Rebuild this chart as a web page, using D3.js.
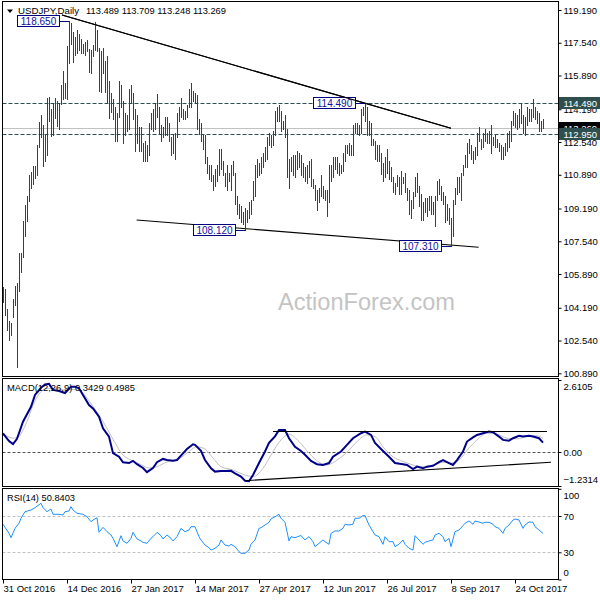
<!DOCTYPE html>
<html><head><meta charset="utf-8">
<script src="https://cdn.jsdelivr.net/npm/d3@7"></script>
<style>
body{margin:0;background:#fff}
svg{display:block}
text{font-family:"Liberation Sans",Arial,sans-serif}
</style>
</head><body>
<svg id="c" width="600" height="600"></svg>
<script>
// ---------- DATA ----------
const dateLabels = ["31 Oct 2016","14 Dec 2016","27 Jan 2017","14 Mar 2017","27 Apr 2017","12 Jun 2017","26 Jul 2017","8 Sep 2017","24 Oct 2017"];
const dateLabelBars = [0,32,64,96,128,160,192,224,256];
const priceTicks = [119.19,117.54,115.89,114.19,112.54,110.89,109.19,107.54,105.89,104.19,102.54,100.89];
const macdTicks = [2.6105,0,-1.2314];
const rsiTicks = [100,70,30,0];
const rsiLevels = [70,30];
const hLevels = [114.49,112.95];
const bidPrice = 113.269;
const lastBar = [113.489,113.709,113.248,113.269];

const high = [105.25,105.15,104.15,103.50,103.40,104.65,105.30,105.45,106.95,106.95,
108.55,109.35,109.80,110.90,111.05,111.35,111.35,112.40,113.55,113.90,
113.40,112.90,114.75,114.80,114.20,114.50,114.75,114.60,114.50,115.40,
116.10,115.50,117.40,118.65,118.55,118.10,117.85,118.20,118.00,117.75,
117.50,117.60,117.70,117.25,117.20,117.45,118.60,118.20,117.30,117.10,
117.30,116.60,116.85,115.60,115.00,114.70,114.30,114.00,115.60,115.40,
114.60,114.00,113.90,115.20,115.40,115.00,114.20,113.90,113.30,113.30,
112.50,112.60,112.40,113.50,114.00,114.20,114.50,114.95,114.30,113.40,
113.30,113.80,113.80,113.50,112.80,112.90,113.00,114.00,114.30,114.75,
114.20,114.10,114.40,115.20,115.50,115.10,115.00,114.90,113.70,113.50,
112.90,112.90,111.80,111.40,111.40,110.90,111.20,111.40,112.20,112.20,
111.60,111.00,111.40,111.00,111.40,111.60,111.00,109.80,109.40,109.30,
109.00,109.20,109.10,109.50,109.60,110.60,111.40,111.70,111.50,111.80,
112.00,112.30,112.80,113.00,112.90,113.10,114.10,114.30,114.40,114.10,
113.60,113.90,113.20,111.70,111.80,111.90,111.90,112.10,112.00,111.90,
111.50,111.30,111.40,111.60,111.70,110.70,110.40,110.10,110.20,110.90,
110.30,110.10,110.10,111.40,111.40,111.80,111.80,111.80,111.50,111.40,
112.00,112.40,112.40,112.50,112.40,113.40,113.50,113.50,113.40,114.20,
114.30,114.49,114.30,113.60,113.50,112.70,112.60,112.40,112.40,112.00,
111.50,111.80,112.20,111.60,111.30,110.80,110.50,110.90,110.80,111.10,
110.80,111.00,110.20,110.10,109.60,110.00,110.80,111.00,110.30,109.90,
109.50,109.70,109.70,109.80,109.80,109.50,109.80,110.60,110.70,110.30,
110.00,109.80,109.40,109.20,108.70,109.60,110.20,110.80,110.80,111.00,
111.40,111.90,112.50,112.70,112.40,112.10,112.30,113.00,113.30,112.70,
113.00,113.20,113.00,113.10,113.40,112.80,112.90,112.70,112.50,112.40,
112.30,112.50,113.00,113.10,113.60,114.10,114.00,113.90,114.20,114.45,
113.90,113.80,114.30,114.20,114.20,114.70,114.30,114.10,114.00,113.60,
113.709];
const low = [104.50,103.85,103.05,102.55,102.80,103.75,104.35,101.19,105.05,106.00,
106.75,107.80,108.55,109.55,110.20,110.45,110.75,110.90,112.30,112.80,
111.35,111.60,111.90,113.60,112.85,112.90,113.75,113.35,113.20,114.45,
114.70,114.75,114.70,116.50,117.50,116.55,116.90,117.00,117.20,117.00,
117.00,116.90,117.10,116.05,116.00,116.85,117.20,117.10,115.10,115.05,
116.00,115.05,114.50,113.75,114.05,113.70,112.60,112.60,113.80,114.30,
112.50,112.90,113.10,113.20,114.50,113.70,112.10,112.50,112.10,112.10,
111.60,111.60,111.60,111.90,113.20,113.10,113.20,113.80,113.00,112.60,
112.80,112.90,112.90,112.60,111.90,112.00,111.70,112.80,113.60,113.80,
113.70,113.70,113.80,114.30,114.30,114.60,114.50,113.20,112.95,112.60,
112.20,111.50,111.00,110.70,110.60,110.10,110.30,110.60,110.90,111.20,
110.90,110.30,110.10,110.60,110.10,110.90,109.40,108.90,108.70,108.50,
108.40,108.12,108.50,108.70,108.90,109.60,109.80,110.80,110.90,111.00,
111.30,111.60,111.70,112.40,112.30,112.40,112.90,113.60,113.60,113.10,
113.20,112.80,110.80,110.20,111.10,110.90,110.80,111.20,111.30,110.90,
110.80,110.60,110.50,110.80,110.30,110.20,109.60,109.10,109.50,109.80,
109.70,109.60,108.80,109.50,110.60,110.80,111.20,111.00,110.90,111.00,
111.10,111.60,112.00,111.90,111.90,111.90,113.00,113.00,112.90,113.00,
113.90,113.60,112.90,112.90,112.40,112.40,111.70,111.60,111.60,110.95,
110.60,110.80,111.00,110.70,110.60,110.00,109.90,110.30,109.90,109.90,
110.50,110.00,109.60,108.90,108.70,109.20,109.80,110.00,109.30,108.60,
108.60,109.00,108.80,109.10,108.90,108.90,108.30,109.60,109.90,109.60,
109.40,108.50,108.60,108.40,107.31,107.80,109.40,109.90,110.00,109.60,
110.90,111.30,111.30,112.00,111.70,111.50,111.70,111.90,112.60,112.20,
112.30,112.60,112.50,112.50,112.00,112.40,112.30,112.30,112.10,111.70,
111.70,111.90,112.10,112.30,112.60,113.40,113.30,113.20,113.30,113.50,
113.00,112.90,113.40,113.60,113.60,113.80,113.70,113.50,113.10,113.10,
113.248];

const macdBars = [0,3,5,7,10,14,16,19,21,23,25,28,31,34,36,38,40,43,45,48,50,53,55,58,60,63,65,67,70,72,75,77,80,82,85,87,90,92,95,96,99,101,104,106,109,111,114,116,119,121,123,125,128,131,133,136,138,141,143,146,149,151,154,157,160,163,165,169,172,175,179,181,184,186,190,193,196,200,202,205,207,210,212,215,218,220,223,225,227,230,232,235,237,240,243,245,248,250,253,255,258,260,263,265,268,270];
const macdMain = [0.68,0.40,0.29,0.48,1.10,1.64,2.07,2.33,2.45,2.47,2.25,2.21,2.14,2.37,2.37,2.31,2.07,1.70,1.58,1.28,0.86,0.56,-0.04,-0.17,-0.37,-0.40,-0.32,-0.44,-0.58,-0.73,-0.58,-0.37,-0.25,-0.29,-0.32,-0.29,-0.05,0.11,0.28,0.26,0.04,-0.29,-0.59,-0.71,-0.69,-0.69,-0.68,-0.77,-0.89,-1.04,-1.06,-0.83,-0.40,0.02,0.33,0.57,0.80,0.80,0.50,0.19,0.04,-0.10,-0.32,-0.44,-0.47,-0.40,-0.17,0.02,0.26,0.50,0.68,0.74,0.62,0.33,0.04,-0.17,-0.40,-0.44,-0.47,-0.62,-0.53,-0.59,-0.53,-0.50,-0.37,-0.29,-0.40,-0.47,-0.29,0.02,0.38,0.53,0.62,0.68,0.74,0.72,0.56,0.44,0.41,0.50,0.59,0.56,0.59,0.56,0.50,0.3429];
const signalBars = [0,3,5,8,10,12,15,18,22,26,31,35,39,43,47,52,56,60,64,68,73,77,82,87,92,97,101,105,109,115,120,125,130,134,139,143,148,153,158,162,167,172,177,182,186,190,195,200,205,210,215,220,224,228,233,237,242,247,252,257,262,267,270];
const signalVals = [0.62,0.55,0.50,0.56,0.80,1.10,1.70,2.10,2.31,2.31,2.25,2.27,2.20,1.85,1.45,0.86,0.33,-0.11,-0.29,-0.42,-0.58,-0.53,-0.36,-0.29,-0.04,0.19,0.11,-0.22,-0.53,-0.65,-0.81,-0.89,-0.59,-0.11,0.44,0.65,0.38,-0.04,-0.37,-0.47,-0.29,-0.01,0.38,0.62,0.56,0.19,-0.17,-0.34,-0.47,-0.53,-0.47,-0.37,-0.40,-0.29,0.15,0.44,0.68,0.65,0.50,0.48,0.56,0.59,0.4985];
const macdBands = [[135,0.745,272,0.745],[121,-1.04,274,-0.37]];

const rsiBars = [0,3,4,6,8,9,11,14,16,19,20,22,24,25,28,30,31,33,34,35,37,40,42,44,45,47,48,50,52,54,55,57,59,60,62,64,65,67,69,70,72,74,75,77,79,80,82,84,85,87,89,91,93,94,96,98,99,101,103,104,106,108,109,111,113,114,116,118,119,121,123,124,126,128,129,131,133,134,136,138,139,141,143,144,146,149,151,153,155,156,158,160,161,163,164,166,168,170,171,173,175,176,178,180,181,183,185,186,188,190,191,193,195,196,198,200,201,203,205,206,208,210,211,213,215,216,218,220,221,223,224,226,228,230,231,233,235,236,238,240,241,243,245,246,248,250,251,253,255,256,258,260,261,263,265,266,268,270];
const rsiVals = [60.9,50.9,46.1,56.4,62.0,67.5,74.8,76.6,79.2,84.0,79.2,74.8,77.7,71.9,71.9,71.1,74.8,75.5,80.3,76.6,73.0,71.9,69.2,63.7,65.6,68.1,52.0,57.5,52.7,49.1,45.4,36.2,48.3,42.5,39.9,45.4,52.0,44.7,42.5,41.0,39.9,45.4,47.2,52.0,48.3,44.7,49.1,45.4,42.5,47.2,56.4,52.7,54.6,58.2,58.2,47.2,43.6,38.0,35.1,32.5,34.4,38.0,43.6,38.0,36.9,38.8,36.2,30.7,28.9,28.9,32.5,38.8,43.6,56.4,57.1,60.1,63.1,66.7,69.2,71.9,67.5,63.1,42.5,47.2,46.1,48.5,43.6,47.2,41.7,36.2,39.9,43.6,41.7,38.8,50.9,53.5,53.5,56.4,60.9,60.1,60.9,67.5,67.5,70.4,70.4,60.1,52.7,49.1,47.2,38.8,47.2,41.7,41.7,36.2,38.8,43.6,38.8,34.4,32.5,48.3,43.6,38.8,41.0,42.5,43.6,49.1,50.9,47.2,41.7,45.4,36.2,52.7,54.6,59.3,62.0,64.5,60.9,64.5,63.4,62.0,63.1,63.1,60.9,58.2,56.4,50.9,56.4,60.1,65.6,66.7,65.6,56.4,60.1,63.4,63.1,58.2,54.6,50.8403];

const trendLines = [[29.5,118.94,224,113.23],[66.8,108.61,237.8,107.24]];
const annotations = [[33,118.65],[181,114.49],[121,108.12],[224,107.31]];

// ---------- LAYOUT ----------
const svg = d3.select("#c");
svg.append("rect").attr("width",600).attr("height",600).attr("fill","#fff");
const L = 2.5, R = 558.5;
const P = {main:[1.5,376.5], macd:[378.5,486.5], rsi:[488.5,579.5]};
const x = d3.scaleLinear().domain([0,277.5]).range([3,558]);
const bx = i => Math.round(x(i)) + 0.5;
const y = d3.scaleLinear().domain([100.89,119.19]).range([373.3,10]);
const yM = d3.scaleLinear().domain([-1.2314,2.6105]).range([486,380]);
const yR = d3.scaleLinear().domain([0,100]).range([579.5,488.8]);
const fmt3 = d3.format(".3f");

const defs = svg.append("defs");
Object.entries(P).forEach(([k,[t,b]])=>{
  defs.append("clipPath").attr("id","clip-"+k).append("rect")
    .attr("x",L).attr("y",t).attr("width",R-L).attr("height",b-t);
});

// ---------- MAIN PANEL ----------
const gm = svg.append("g").attr("clip-path","url(#clip-main)");
gm.append("text").attr("x",278).attr("y",310).attr("font-family","'Open Sans','Noto Sans',sans-serif")
  .attr("font-size",23).attr("fill","#c4c4c4").attr("textLength",177).attr("lengthAdjust","spacingAndGlyphs")
  .text("ActionForex.com");
gm.append("line").attr("x1",L).attr("x2",R).attr("y1",Math.round(y(bidPrice))+0.5).attr("y2",Math.round(y(bidPrice))+0.5)
  .attr("stroke","#c0c0c0");
gm.selectAll("line.lvl").data(hLevels).join("line").attr("class","lvl")
  .attr("x1",L).attr("x2",R).attr("y1",d=>Math.round(y(d))+0.5).attr("y2",d=>Math.round(y(d))+0.5)
  .attr("stroke","#2f4f4f").attr("stroke-dasharray","4,2");
gm.selectAll("line.trend").data(trendLines).join("line").attr("class","trend")
  .attr("x1",d=>x(d[0])).attr("y1",d=>y(d[1])).attr("x2",d=>x(d[2])).attr("y2",d=>y(d[3]))
  .attr("stroke","#000").attr("stroke-width",1.1);
gm.selectAll("line.bar").data(high).join("line").attr("class","bar")
  .attr("x1",(d,i)=>bx(i)).attr("x2",(d,i)=>bx(i))
  .attr("y1",d=>Math.round(y(d))).attr("y2",(d,i)=>Math.round(y(low[i]))+1)
  .attr("stroke","#1a4866").attr("stroke-width",1);
// annotation boxes
const ga = gm.selectAll("g.ann").data(annotations).join("g").attr("class","ann");
ga.append("line").attr("x1",d=>bx(d[0])-10).attr("x2",d=>bx(d[0])).attr("y1",d=>Math.round(y(d[1]))+0.5).attr("y2",d=>Math.round(y(d[1]))+0.5)
  .attr("stroke","#000080");
ga.append("rect").attr("x",d=>bx(d[0])-52).attr("y",d=>Math.round(y(d[1]))-5.5).attr("width",42).attr("height",11)
  .attr("fill","#fff").attr("stroke","#000080");
ga.append("text").attr("x",d=>bx(d[0])-31).attr("y",d=>Math.round(y(d[1]))+4).attr("text-anchor","middle")
  .attr("font-size",10).attr("fill","#1010a0").text(d=>fmt3(d[1]));
// trendline passes over the 114.490 box as in the reference
gm.append("line").datum(trendLines[0]).attr("x1",d=>x(d[0])).attr("y1",d=>y(d[1])).attr("x2",d=>x(d[2])).attr("y2",d=>y(d[3]))
  .attr("stroke","#000").attr("stroke-width",1.1);

// title
svg.append("path").attr("d","M7,9.5L13,9.5L10,13Z").attr("fill","#000");
svg.append("text").attr("x",18).attr("y",14).attr("font-size",9.5).attr("textLength",61).attr("lengthAdjust","spacingAndGlyphs").text("USDJPY,Daily");
svg.append("text").attr("x",86).attr("y",14).attr("font-size",9.5).attr("textLength",140).attr("lengthAdjust","spacingAndGlyphs").text(lastBar.map(fmt3).join(" "));

// right price axis
const ax = svg.append("g").attr("transform",`translate(${R},0)`)
  .call(d3.axisRight(y).tickValues(priceTicks).tickSize(3).tickFormat(fmt3));
ax.select(".domain").remove();
ax.selectAll("text").attr("x",5).attr("font-size",9.5).attr("font-family","Liberation Sans, Arial, sans-serif").attr("fill","#000");
ax.selectAll("line").attr("stroke","#000");
function priceBox(p, fill){
  const yy = Math.round(y(p));
  svg.append("rect").attr("x",R+0.5).attr("y",yy-6).attr("width",600-R).attr("height",12).attr("fill",fill);
  svg.append("text").attr("x",R+5).attr("y",yy+3.5).attr("font-size",9.5).attr("fill","#fff").text(fmt3(p));
}
priceBox(bidPrice,"#000");
hLevels.forEach(p=>priceBox(p,"#2f4f4f"));

// ---------- MACD PANEL ----------
const gM = svg.append("g").attr("clip-path","url(#clip-macd)");
gM.append("line").attr("x1",L).attr("x2",R).attr("y1",Math.round(yM(0))+0.5).attr("y2",Math.round(yM(0))+0.5)
  .attr("stroke","#555").attr("stroke-dasharray","3,2");
gM.append("path").datum(signalBars.map((b,i)=>[b,signalVals[i]]))
  .attr("d",d3.line().x(d=>x(d[0])).y(d=>yM(d[1])).curve(d3.curveMonotoneX))
  .attr("fill","none").attr("stroke","#c0c0c0").attr("stroke-width",1);
gM.append("path").datum(macdBars.map((b,i)=>[b,macdMain[i]]))
  .attr("d",d3.line().x(d=>x(d[0])).y(d=>yM(d[1])))
  .attr("fill","none").attr("stroke","#00008b").attr("stroke-width",2);
gM.selectAll("line.band").data(macdBands).join("line").attr("class","band")
  .attr("x1",d=>x(d[0])).attr("y1",d=>yM(d[1])).attr("x2",d=>x(d[2])).attr("y2",d=>yM(d[3]))
  .attr("stroke","#000").attr("stroke-width",1.1);
svg.append("text").attr("x",7).attr("y",391).attr("font-size",9.5).attr("textLength",128).attr("lengthAdjust","spacingAndGlyphs")
  .text(`MACD(12,26,9) ${macdMain[macdMain.length-1].toFixed(4)} ${signalVals[signalVals.length-1].toFixed(4)}`);
const axM = svg.append("g").attr("transform",`translate(${R},0)`)
  .call(d3.axisRight(yM).tickValues(macdTicks).tickSize(3).tickFormat(d=>d===0?"0.00":d3.format(".4f")(d)));
axM.select(".domain").remove();
axM.selectAll("text").attr("x",5).attr("font-size",9.5).attr("font-family","Liberation Sans, Arial, sans-serif").attr("fill","#000")
  .attr("dy",(d,i)=>i===0?"0.95em":(i===2?"-0.35em":"0.32em"));
axM.selectAll("line").attr("stroke","#000");

// ---------- RSI PANEL ----------
const gR = svg.append("g").attr("clip-path","url(#clip-rsi)");
gR.selectAll("line.lv").data(rsiLevels).join("line").attr("class","lv")
  .attr("x1",L).attr("x2",R).attr("y1",d=>Math.round(yR(d))+0.5).attr("y2",d=>Math.round(yR(d))+0.5)
  .attr("stroke","#c0c0c0").attr("stroke-dasharray","3,2");
gR.append("path").datum(rsiBars.map((b,i)=>[b,rsiVals[i]]))
  .attr("d",d3.line().x(d=>x(d[0])).y(d=>yR(d[1])))
  .attr("fill","none").attr("stroke","#1e90ff").attr("stroke-width",1);
svg.append("text").attr("x",7).attr("y",500.5).attr("font-size",9.5).attr("textLength",68).attr("lengthAdjust","spacingAndGlyphs")
  .text(`RSI(14) ${rsiVals[rsiVals.length-1].toFixed(4)}`);
const axR = svg.append("g").attr("transform",`translate(${R},0)`)
  .call(d3.axisRight(yR).tickValues(rsiTicks).tickSize(3).tickFormat(d3.format("d")));
axR.select(".domain").remove();
axR.selectAll("text").attr("x",5).attr("font-size",9.5).attr("font-family","Liberation Sans, Arial, sans-serif").attr("fill","#000")
  .attr("dy",(d,i)=>i===0?"1.05em":(i===3?"-0.4em":"0.32em"));
axR.selectAll("line").attr("stroke","#000");

// ---------- BORDERS ----------
Object.values(P).forEach(([t,b])=>{
  svg.append("rect").attr("x",L).attr("y",t).attr("width",R-L).attr("height",b-t)
    .attr("fill","none").attr("stroke","#000");
});

// ---------- DATE AXIS ----------
const axD = svg.append("g").attr("transform",`translate(0,${P.rsi[1]})`)
  .call(d3.axisBottom(x).tickValues(dateLabelBars).tickSize(4).tickFormat((d,i)=>dateLabels[i]));
axD.select(".domain").remove();
axD.selectAll(".tick").attr("transform",d=>`translate(${bx(d)},0)`);
axD.selectAll("line").attr("stroke","#000");
axD.selectAll("text").attr("text-anchor","start").attr("x",0).attr("y",12.5).attr("dy",0)
  .attr("font-size",9.5).attr("font-family","Liberation Sans, Arial, sans-serif").attr("fill","#000");
</script>
</body></html>
